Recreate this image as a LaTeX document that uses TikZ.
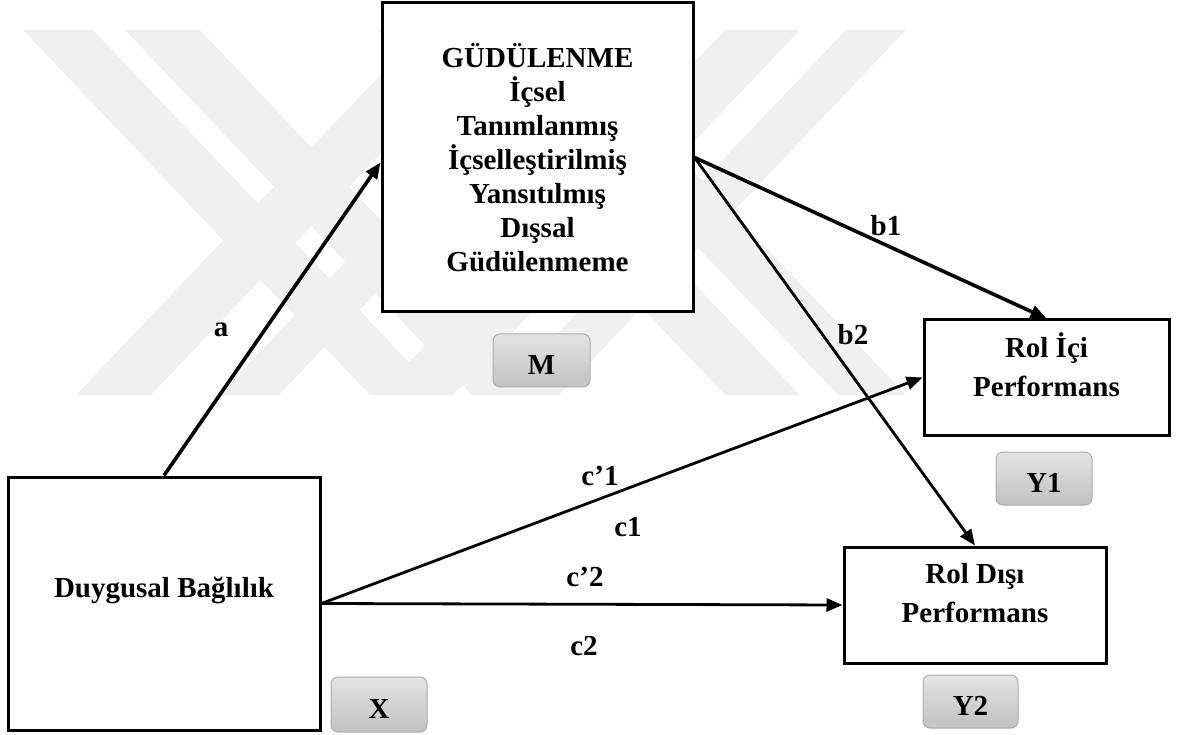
\documentclass[tikz,border=0pt]{standalone}
\usepackage{fontspec}
\setmainfont{Liberation Serif}
\usetikzlibrary{arrows.meta}
\begin{document}
\begin{tikzpicture}[x=1pt,y=-1pt,
  wm/.style={fill=black!6},
  box/.style={draw=black,line width=3pt,fill=white,inner sep=0pt},
  txt/.style={font=\fontsize{29}{34}\selectfont\bfseries,align=center,inner sep=0pt},
  txtwide/.style={font=\fontsize{29}{39}\selectfont\bfseries,align=center,inner sep=0pt},
  tag/.style={draw=black!32,line width=1pt,rounded corners=7pt,
    top color=black!11,bottom color=black!24,inner sep=0pt,
    text height=28pt,text depth=0pt,font=\fontsize{29}{34}\selectfont\bfseries},
  lab/.style={font=\fontsize{29}{34}\selectfont\bfseries,inner sep=0pt},
  link/.style={line width=2.8pt,-{Triangle[length=16pt,width=13pt]}},
  heavylink/.style={link,line width=3.6pt}
]
\useasboundingbox (0,0) rectangle (1184,735);

% faint background stripes
\fill[wm] (23,30) -- (93,30) -- (440,395) -- (370,395) -- cycle;
\fill[wm] (125,30) -- (200,30) -- (547,395) -- (472,395) -- cycle;
\fill[wm] (725,30) -- (800,30) -- (453,395) -- (378,395) -- cycle;
\fill[wm] (846,30) -- (906,30) -- (559,395) -- (499,395) -- cycle;
\fill[wm] (423,30) -- (498,30) -- (151,395) -- (76,395) -- cycle;
\fill[wm] (566,30) -- (626,30) -- (279,395) -- (219,395) -- cycle;
\fill[wm] (378,30) -- (453,30) -- (800,395) -- (725,395) -- cycle;
\fill[wm] (491,30) -- (559,30) -- (906,395) -- (838,395) -- cycle;

% variable boxes
\node[box,minimum width=311pt,minimum height=309pt] (M) at (537.5,157.5) {};
\node[box,minimum width=312pt,minimum height=253pt] (X) at (164,603.5) {};
\node[box,minimum width=245pt,minimum height=115pt] (RI) at (1046.5,377.5) {};
\node[box,minimum width=262pt,minimum height=116pt] (RD) at (975,605) {};

\node[txt] (Mt) at (537.5,157.5) {GÜDÜLENME\\İçsel\\Tanımlanmış\\İçselleştirilmiş\\Yansıtılmış\\Dışsal\\Güdülenmeme};
\node[txt] (Xt) at (164,590) {Duygusal Bağlılık};
\node[txtwide] (RIt) at (1046.5,365) {Rol İçi\\Performans};
\node[txtwide] (RDt) at (975,593.5) {Rol Dışı\\Performans};

% role tags
\node[tag,minimum width=97pt,minimum height=53pt] (Mtag) at (541.5,360.5) {M};
\node[tag,minimum width=96pt,minimum height=55pt] (Xtag) at (379,704.5) {X};
\node[tag,minimum width=96pt,minimum height=53pt] (Y1tag) at (1044,478.5) {Y1};
\node[tag,minimum width=95pt,minimum height=53pt] (Y2tag) at (970.5,701.5) {Y2};

% paths
\draw[heavylink] (X.north) -- ([yshift=-5pt]M.west);
\draw[heavylink] (M.east) -- (RI.north);
\draw[link] (M.east) -- (RD.north);
\draw[link] (X.east) -- (RI.west);
\draw[link] (X.east) -- (RD.west);

% path labels
\node[lab] (la) at (221,330) {a};
\node[lab] (lb1) at (886,226) {b1};
\node[lab] (lb2) at (853,335) {b2};
\node[lab] (lc1p) at (600,476) {c’1};
\node[lab] (lc1) at (628,527) {c1};
\node[lab] (lc2p) at (585,577) {c’2};
\node[lab] (lc2) at (584,646) {c2};
\end{tikzpicture}
\end{document}
